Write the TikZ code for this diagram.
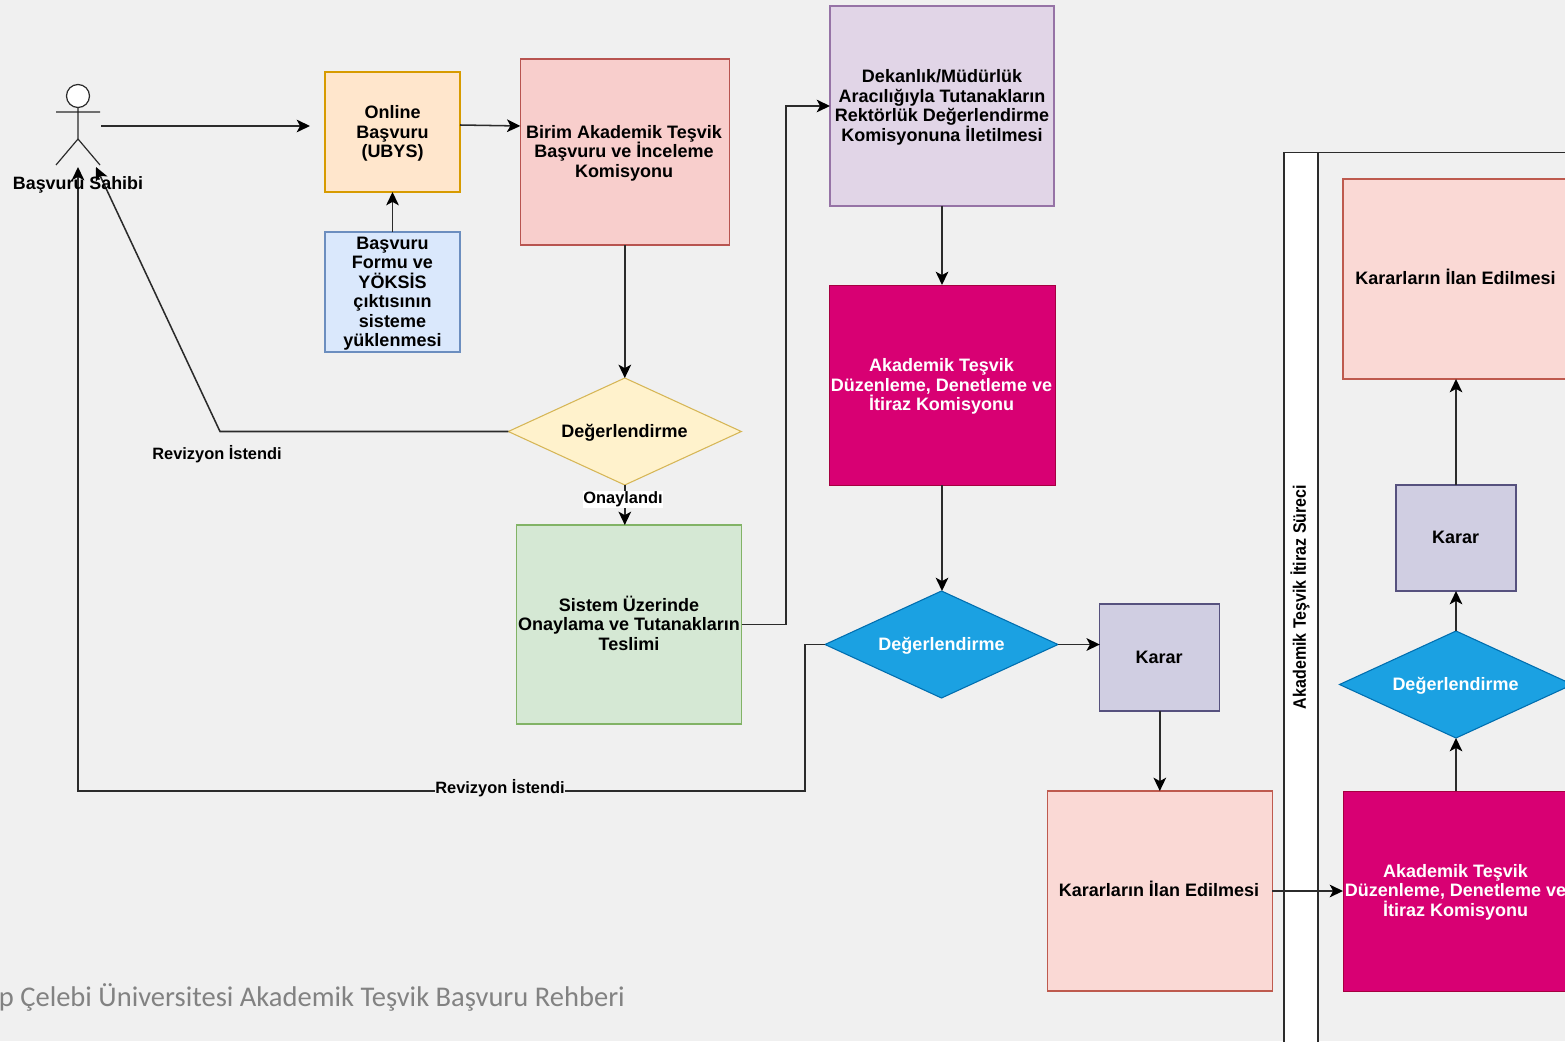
\documentclass[tikz,border=0pt]{standalone}
\usepackage{fontspec}
\setmainfont{Liberation Sans}
\newfontfamily\footfont{Carlito}
\usetikzlibrary{shapes.geometric,arrows.meta}
\newdimen\px \px=0.75pt
\definecolor{bgc}{HTML}{F0F0F0}
\definecolor{linec}{HTML}{2B2B2B}
\tikzset{
  x=0.75pt,y=-0.75pt,
  txt/.style={font=\bfseries\fontsize{13.5pt}{14.6pt}\selectfont,align=center,text=black,inner sep=0pt},
  whitetxt/.style={txt,text=white},
  boxn/.style={draw,rectangle,line width=0.95pt,inner sep=0pt,outer sep=0pt},
  dia/.style={draw,diamond,aspect=2.18,line width=0.8pt,inner sep=0pt,outer sep=0pt,minimum width=233\px,minimum height=107\px},
  orangeb/.style={boxn,fill={rgb,255:red,255;green,230;blue,204},draw={rgb,255:red,215;green,155;blue,0}},
  redb/.style={boxn,fill={rgb,255:red,248;green,206;blue,204},draw={rgb,255:red,184;green,84;blue,80}},
  blueb/.style={boxn,fill={rgb,255:red,218;green,232;blue,252},draw={rgb,255:red,108;green,142;blue,191}},
  purpleb/.style={boxn,fill={rgb,255:red,225;green,213;blue,231},draw={rgb,255:red,150;green,115;blue,166}},
  magentab/.style={boxn,fill={rgb,255:red,216;green,0;blue,115},draw={rgb,255:red,165;green,0;blue,64},line width=0.6pt},
  greenb/.style={boxn,fill={rgb,255:red,213;green,232;blue,212},draw={rgb,255:red,130;green,179;blue,102}},
  greyb/.style={boxn,fill={rgb,255:red,208;green,206;blue,226},draw={rgb,255:red,86;green,81;blue,126}},
  pinkb/.style={boxn,fill={rgb,255:red,250;green,217;blue,213},draw={rgb,255:red,190;green,90;blue,78}},
  yellowd/.style={dia,fill={rgb,255:red,255;green,242;blue,204},draw={rgb,255:red,214;green,182;blue,86}},
  blued/.style={dia,fill={rgb,255:red,27;green,161;blue,226},draw={rgb,255:red,0;green,110;blue,175}},
  conn/.style={draw=linec,line width=1.15pt,-{Stealth[length=10pt,width=9.5pt,inset=2.6pt,color=black]}},
  lbl/.style={font=\bfseries\fontsize{12.3pt}{14pt}\selectfont,text=black,inner sep=1pt},
  actorline/.style={draw=linec,line width=0.9pt},
  lane/.style={draw=linec,line width=1.1pt}
}
\begin{document}
\begin{tikzpicture}
\useasboundingbox (0,0) rectangle (1565,1041);
\clip (0,0) rectangle (1565,1041);
\fill[bgc] (0,0) rectangle (1565,1041);

% swimlane
\draw[lane] (1284,1060) -- (1284,152.5) -- (1580,152.5);
\draw[lane,fill=white] (1284,152.5) rectangle (1318,1060);
\node[rotate=90,font=\bfseries\fontsize{13.5pt}{14pt}\selectfont,xscale=0.89] (lanetitle) at (1300,597) {Akademik Teşvik İtiraz Süreci};

% actor
\node[circle,draw=linec,fill=white,line width=0.9pt,minimum size=23\px,inner sep=0pt] (head) at (78,96) {};
\coordinate (hip) at (78,139);
\coordinate (armL) at (56,112);
\coordinate (armR) at (100,112);
\coordinate (legL) at (56,165);
\coordinate (legR) at (100,165);
\draw[actorline] (head.south) -- (hip) (armL) -- (armR) (legL) -- (hip) -- (legR);
\coordinate (actorout) at (101,126);
\coordinate (actorfree) at (310,126);
\coordinate (actorinA) at (78,167);
\coordinate (actorinB) at (96,167);

% boxes
\node[orangeb,minimum width=135\px,minimum height=120\px] (online) at (392.5,132) {};
\node[redb,minimum width=209\px,minimum height=186\px] (birim) at (624.8,152) {};
\node[blueb,minimum width=135\px,minimum height=120\px] (form) at (392.5,292) {};
\node[purpleb,minimum width=224\px,minimum height=200\px] (dek) at (942,106) {};
\node[magentab,minimum width=226\px,minimum height=200\px] (akad) at (942,385) {};
\node[yellowd] (d1) at (624.8,431.5) {};
\node[greenb,minimum width=225\px,minimum height=199\px] (sistem) at (629,624.5) {};
\node[blued] (d2) at (941.5,644.5) {};
\node[greyb,minimum width=120\px,minimum height=107\px] (karar) at (1159.8,657.5) {};
\node[pinkb,minimum width=225\px,minimum height=200\px] (ilan) at (1159.8,891) {};
\node[pinkb,minimum width=226\px,minimum height=200\px] (ilan2) at (1456,279) {};
\node[greyb,minimum width=120\px,minimum height=106\px] (karar2) at (1456,538) {};
\node[blued] (d3) at (1456,684.5) {};
\node[magentab,minimum width=226\px,minimum height=200\px] (akad2) at (1456,891) {};

% connectors
\draw[conn] (actorout) -- (actorfree);
\draw[conn] (online.east |- 0,125) -- (birim.west |- 0,126);
\draw[conn] (form) -- (online);
\draw[conn] (birim) -- (d1);
\coordinate (bendA) at (220,431.5);
\draw[conn] (d1.west) -- (bendA) -- (actorinB);
\draw[conn] (d1.south) -- (d1.south |- sistem.north);
\coordinate (bendB) at (786,624.5);
\coordinate (bendC) at (786,106);
\draw[conn] (sistem.east) -- (bendB) -- (bendC) -- (dek.west);
\draw[conn] (dek) -- (akad);
\draw[conn] (akad.south) -- (akad.south |- d2.north);
\draw[conn] (d2.east) -- (karar.west |- d2.east);
\draw[conn] (karar) -- (karar |- ilan.north);
\draw[conn] (ilan.east) -- (akad2.west);
\draw[conn] (akad2.north) -- (d3.south);
\draw[conn] (d3.north) -- (karar2.south);
\draw[conn] (karar2.north) -- (ilan2.south);
\coordinate (bendD) at (805,644.5);
\coordinate (bendE) at (805,791);
\coordinate (bendF) at (78,791);
\draw[conn] (d2.west) -- (bendD) -- (bendE) -- (bendF) -- (actorinA);

% texts
\node[font=\bfseries\fontsize{13.4pt}{14pt}\selectfont,inner sep=0pt] (actorlabel) at (78,185) {Başvuru Sahibi};
\node[txt] (onlinet) at (392.5,133.5) {Online\\Başvuru\\(UBYS)};
\node[txt] (birimt) at (624,153) {Birim Akademik Teşvik\\Başvuru ve İnceleme\\Komisyonu};
\node[txt] (formt) at (392.5,293.5) {Başvuru\\Formu ve\\YÖKSİS\\çıktısının\\sisteme\\yüklenmesi};
\node[txt] (dekt) at (942,107.5) {Dekanlık/Müdürlük\\Aracılığıyla Tutanakların\\Rektörlük Değerlendirme\\Komisyonuna İletilmesi};
\node[whitetxt] (akadt) at (941.5,386.5) {Akademik Teşvik\\Düzenleme, Denetleme ve\\İtiraz Komisyonu};
\node[txt] (d1t) at (624.5,432.5) {Değerlendirme};
\node[txt] (sistemt) at (629,623) {Sistem Üzerinde\\Onaylama ve Tutanakların\\Teslimi};
\node[whitetxt] (d2t) at (941.5,645.5) {Değerlendirme};
\node[txt] (karart) at (1159,657.5) {Karar};
\node[txt] (ilant) at (1159,889) {Kararların İlan Edilmesi};
\node[txt] (ilan2t) at (1455.5,277) {Kararların İlan Edilmesi};
\node[txt] (karar2t) at (1455.5,537.5) {Karar};
\node[whitetxt] (d3t) at (1455.5,685.5) {Değerlendirme};
\node[whitetxt] (akad2t) at (1455.5,892) {Akademik Teşvik\\Düzenleme, Denetleme ve\\İtiraz Komisyonu};
\node[lbl] (revA) at (217,454.5) {Revizyon İstendi};
\node[lbl,fill=white,inner sep=0.5pt] (onay) at (623,499.5) {Onaylandı};
\node[lbl,fill=bgc,inner sep=0.5pt] (revB) at (500,788.5) {Revizyon İstendi};

% footer
\node[anchor=base east,inner sep=0pt,text={rgb,255:red,130;green,130;blue,130},font=\footfont\fontsize{21.4pt}{24pt}\selectfont] (footer) at (625,1006) {p Çelebi Üniversitesi Akademik Teşvik Başvuru Rehberi};
\end{tikzpicture}
\end{document}
